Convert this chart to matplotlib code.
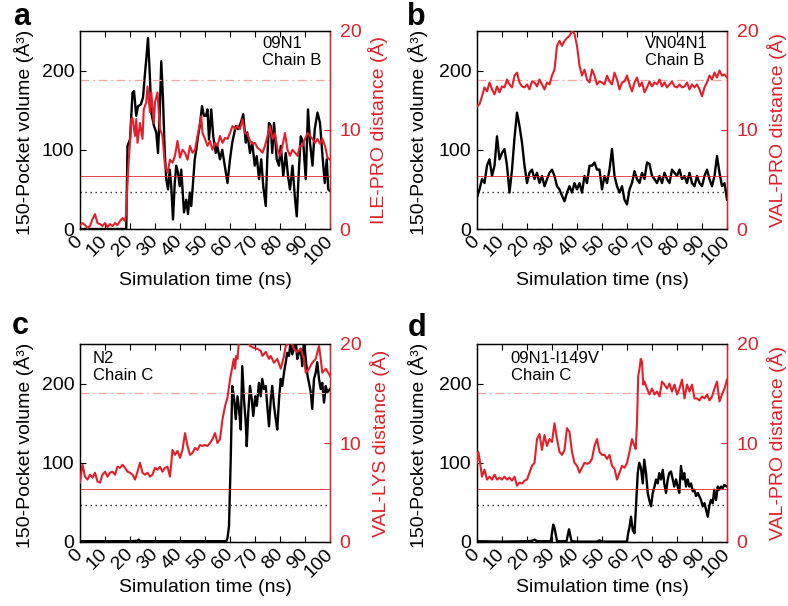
"""
Pocket volume vs. side-chain distance, four MD runs (panels a-d).
Black = 150-pocket volume (left axis), red = residue pair distance (right axis).
"""

import matplotlib
matplotlib.use("Agg")
import matplotlib.pyplot as plt

plt.rcParams["font.family"] = ["Liberation Sans", "DejaVu Sans"]

# ─────────────────────────────────────────────
# STYLE
# ─────────────────────────────────────────────
RED   = "#E2202B"
PINK  = "#F2A3A3"
TICK_SIZE  = 14
LABEL_SIZE = 14

# ─────────────────────────────────────────────
# THRESHOLDS (same in every panel)
# ─────────────────────────────────────────────
POCKET_CUT = 46.5     # Å³, black dotted
DIST_LOW   = 5.4      # Å, red solid
DIST_HIGH  = 15.1     # Å, pink dash-dot

X_TICKS = [0, 10, 20, 30, 40, 50, 60, 70, 80, 90, 100]
T_GRID  = list(range(0, 101))   # 1 ns sampling used for panel b

# ─────────────────────────────────────────────
# PANEL a — 09N1 chain B, ILE-PRO
# ─────────────────────────────────────────────
A_VOL_T = [0, 18.5, 19, 20, 21, 21.6, 22.5, 23.2, 24.3, 25.2,
           25.9, 26.5, 27.2, 27.9, 28.5, 29.6, 30.5, 31.2, 31.9, 32.5,
           33.2, 33.9, 34.5, 35.2, 35.9, 36.5, 37.2, 37.9, 38.5, 39.2,
           39.9, 40.5, 41.6, 42.5, 43.2, 43.9, 44.5, 45.2, 45.9, 46.5,
           47.2, 47.9, 48.8, 49.6, 50.4, 51, 51.6, 52.5, 53.3, 54.3,
           54.9, 56, 56.9, 57.9, 59, 60, 60.9, 62.3, 63.2, 64.3,
           65.3, 66.3, 66.9, 68, 68.9, 69.9, 70.7, 71.6, 72.5, 73.3,
           74.3, 74.9, 75.6, 76.3, 76.9, 77.6, 78.7, 79.6, 80.3, 81.3,
           82.3, 83.2, 84, 85, 85.9, 86.7, 87.5, 88.3, 89.3, 90.3,
           91.2, 92, 93, 93.9, 95, 96, 96.9, 97.9, 98.7, 99.3, 100]
A_VOL = [0, 0, 105, 113, 172, 174, 143, 155, 157, 166,
         193, 214, 241, 197, 147, 130, 122, 96, 147, 212,
         164, 96, 63, 50, 75, 54, 12, 58, 80, 71,
         54, 75, 21, 37, 19, 46, 29, 58, 88, 100,
         117, 130, 155, 143, 143, 151, 113, 151, 117, 96,
         105, 88, 100, 80, 58, 88, 109, 130, 126, 134,
         145, 109, 122, 96, 109, 80, 92, 63, 88, 54,
         29, 88, 134, 130, 96, 134, 88, 80, 105, 67,
         96, 67, 50, 80, 42, 16, 71, 117, 109, 63,
         151, 109, 80, 126, 147, 134, 96, 58, 88, 50, 48]

A_DIST_T = (list(range(0, 19))
            + [18.5, 19, 19.5, 20, 20.5, 21, 22, 22.5, 23, 24,
               25, 25.5, 26.5, 27, 28, 28.5, 29.5, 30, 31]
            + list(range(32, 49)) + [48.5, 49] + list(range(50, 101)))
A_DIST = [0.4, 0.6, 0.4, 0.1, 0.3, 1.0, 1.5, 0.6, 0.5, 0.3,
          0.6, 0.2, 0.5, 0.3, 0.6, 0.4, 0.8, 1.1, 0.8,
          1.6, 4.7, 7.0, 8.7, 11.1, 11.2, 9.4, 11.1, 8.7, 10.7,
          9.1, 12.1, 12.8, 14.4, 11.8, 13.8, 10.7, 12.8, 13.8,
          10.1, 9.4, 6.4, 5.7, 7.0, 6.7, 7.4, 8.9, 7.2, 8.0,
          7.7, 7.0, 8.4, 7.7, 8.0, 9.4, 10.7,
          11.4, 9.7, 9.1,
          8.4, 8.9, 8.0, 8.7, 8.4, 9.4, 8.7, 9.2, 9.1, 9.7,
          10.4, 10.1, 10.4, 10.1, 11.1, 9.7, 9.6, 8.9, 8.6, 8.7,
          8.2, 8.0, 7.7, 8.4, 9.4, 10.4, 9.1, 9.7, 8.0, 7.4,
          8.4, 9.7, 8.0, 7.4, 8.0, 7.7, 7.4, 8.4, 8.4, 9.1,
          9.7, 9.4, 9.1, 8.7, 9.1, 8.6, 9.1, 8.4, 7.2, 7.0]

# ─────────────────────────────────────────────
# PANEL b — VN04N1 chain B, VAL-PRO
# ─────────────────────────────────────────────
B_VOL = [40, 50, 63, 58, 80, 88, 67, 80, 117, 88,
         96, 101, 80, 46, 75, 115, 147, 130, 109, 80,
         58, 71, 75, 63, 71, 58, 67, 54, 63, 71,
         75, 67, 54, 50, 42, 35, 46, 54, 46, 58,
         50, 58, 46, 67, 58, 80, 80, 84, 75, 75,
         50, 67, 58, 75, 101, 67, 54, 46, 54, 37,
         31, 50, 58, 73, 63, 58, 71, 63, 84, 82,
         67, 63, 58, 67, 58, 71, 63, 58, 75, 71,
         67, 75, 63, 67, 58, 71, 58, 54, 67, 58,
         54, 67, 75, 63, 54, 67, 92, 71, 54, 58, 37]
B_DIST = [12.4, 12.6, 13.4, 14.3, 13.9, 14.8, 14.1, 13.6, 14.4, 13.8,
          14.4, 14.3, 15.1, 14.6, 14.3, 15.5, 15.8, 14.8, 14.4, 14.3,
          14.6, 14.1, 14.9, 14.8, 14.4, 15.1, 14.6, 14.1, 14.8, 14.6,
          15.5, 16.1, 18.5, 19.0, 18.5, 19.0, 19.3, 19.5, 20.0, 19.7,
          18.5, 16.5, 15.5, 16.1, 15.1, 14.8, 16.1, 15.5, 14.6, 14.9,
          14.8, 14.6, 15.5, 14.9, 14.6, 15.8, 15.1, 14.1, 14.8, 14.9,
          15.5, 14.6, 13.9, 14.8, 15.3, 14.4, 14.8, 13.8, 14.3, 14.9,
          14.4, 14.8, 14.6, 15.1, 14.4, 14.8, 14.3, 14.6, 14.9, 14.4,
          14.3, 14.6, 14.3, 14.4, 14.8, 14.1, 14.6, 14.3, 14.6, 14.1,
          13.4, 14.3, 14.8, 15.5, 15.1, 15.8, 15.3, 16.0, 15.5, 15.6, 15.3]

# ─────────────────────────────────────────────
# PANEL c — N2 chain C, VAL-LYS
# ─────────────────────────────────────────────
C_VOL_T = [0, 10, 20, 23, 23.5, 24, 30, 40, 50, 58.5,
           59, 59.6, 60.3, 60.9, 61.6, 62.3, 63, 63.6, 64.3, 64.9,
           65.6, 66.3, 66.7, 67.3, 68, 68.7, 69.3, 70.1, 70.7, 71.6,
           72.3, 72.9, 73.6, 74.3, 74.9, 75.6, 76.3, 76.9, 77.6, 78.3,
           78.9, 79.6, 80.3, 80.9, 81.6, 82.3, 82.9, 83.6, 84.3, 84.9,
           85.6, 86.3, 86.9, 87.6, 88.3, 88.9, 89.6, 90.3, 91, 91.6,
           92.3, 92.9, 93.6, 94.3, 94.9, 95.6, 96.3, 96.9, 97.6, 98.3,
           98.9, 100]
C_VOL = [1, 1, 1, 1.5, 3, 1, 1, 1, 1, 1,
         5, 20, 106, 197, 182, 155, 184, 168, 142, 222,
         180, 151, 121, 163, 197, 180, 159, 184, 172, 201,
         184, 206, 193, 197, 172, 146, 180, 197, 172, 155,
         142, 180, 206, 197, 214, 227, 239, 235, 255, 237,
         244, 255, 231, 239, 244, 222, 255, 231, 210, 201,
         189, 168, 206, 214, 227, 206, 193, 201, 176, 197,
         189, 193]

C_DIST_T = ([0, 0.5] + list(range(1, 62))
            + [61.5, 62, 62.5, 63, 63.5, 64, 65, 66, 67, 68,
               69.6, 71, 72.3, 73, 74.3, 75.6, 76.3, 77.6, 78.9, 80.3,
               80.9, 81.6, 82.3, 84.3, 85.6, 86.9, 88.3, 89.6, 90.3, 91.6,
               92.9, 94.3, 95.6, 96.3, 96.9, 98.3, 100])
C_DIST = [6.0, 7.0,
          7.8, 6.6, 6.3, 6.8, 6.5, 7.0, 6.1, 6.0, 6.8, 7.1,
          6.6, 7.0, 7.1, 6.8, 7.6, 7.5, 7.8, 7.5, 7.1, 7.0,
          6.8, 6.3, 7.1, 8.0, 7.0, 6.8, 7.0, 6.6, 6.8, 7.5,
          7.3, 7.6, 7.1, 7.5, 7.6, 6.6, 9.3, 8.8, 9.2, 8.5,
          9.3, 11.0, 9.7, 8.8, 9.0, 9.5, 9.3, 9.8, 9.7, 9.8,
          9.7, 10.0, 10.4, 11.0, 10.0, 10.4, 12.4, 13.7, 14.6, 16.4,
          17.8,
          18.5, 17.5, 18.8, 18.5, 20.0, 21.0, 21.5, 21.0, 20.5, 19.8,
          19.6, 19.5, 19.3, 18.8, 19.2, 18.5, 18.8, 18.1, 18.5, 17.5,
          18.1, 18.8, 19.8, 20.3, 19.5, 19.2, 19.5, 18.5, 17.1, 17.5,
          18.1, 18.5, 19.8, 18.5, 17.1, 17.5, 16.8]

# ─────────────────────────────────────────────
# PANEL d — 09N1-I149V chain C, VAL-PRO
# ─────────────────────────────────────────────
D_VOL_T = [0, 10, 20, 22, 23, 24, 29.5, 30.5, 31, 32,
           35.8, 36.8, 37.8, 40, 48, 49, 50, 55, 60, 60.4,
           61, 61.6, 62.3, 63, 63.6, 64.3, 64.9, 65.6, 66.3, 66.9,
           67.6, 68.3, 68.9, 69.6, 70.3, 71, 71.6, 72.3, 72.9, 73.6,
           74.3, 74.9, 75.6, 76.3, 76.9, 77.6, 78.3, 78.9, 79.6, 80.3,
           80.9, 81.6, 82.3, 82.9, 83.6, 84.3, 84.9, 85.6, 86.3, 86.9,
           87.6, 88.3, 88.9, 89.6, 90.3, 91, 91.6, 92.3, 92.9, 93.6,
           94.3, 94.9, 95.6, 96.3, 96.9, 97.6, 98.3, 98.9, 100]
D_VOL = [1, 0.5, 1, 1.5, 3, 1, 1, 22, 18, 1,
         1, 16, 1, 0.5, 0.5, 2, 0.5, 0.5, 0.5, 10,
         19, 32, 15, 11, 45, 87, 100, 93, 74, 104,
         87, 62, 53, 45, 62, 70, 79, 74, 87, 79,
         91, 74, 62, 79, 87, 89, 79, 70, 79, 70,
         62, 96, 79, 87, 70, 79, 70, 74, 64, 66,
         58, 62, 58, 53, 45, 49, 41, 32, 45, 53,
         49, 66, 53, 70, 66, 70, 68, 72, 70]

D_DIST_T = ([0, 0.5] + list(range(1, 64))
            + [63.5, 64, 64.5, 65, 65.5, 66, 66.5] + list(range(67, 101)))
D_DIST = [8.0, 9.1,
          8.4, 6.6, 7.3, 6.3, 6.6, 6.3, 6.8, 6.3, 6.5, 6.3,
          6.6, 6.3, 6.5, 6.2, 6.6, 5.7, 6.0, 5.9, 6.2, 6.3,
          7.0, 7.7, 8.0, 10.4, 10.9, 9.3, 10.8, 9.7, 10.4, 10.1,
          12.0, 10.4, 9.1, 8.8, 9.3, 11.5, 11.1, 9.1, 8.0, 7.7,
          7.0, 7.5, 8.0, 7.9, 8.0, 8.4, 9.7, 10.4, 9.1, 8.8,
          8.8, 8.4, 8.8, 7.7, 7.4, 6.3, 7.0, 7.7, 7.5, 8.0,
          9.1, 10.4, 9.7,
          9.4, 12.1, 16.8, 17.5, 18.5, 18.2, 15.9,
          16.2, 15.5, 14.9, 15.5, 14.9, 15.2, 14.7, 16.2, 15.9, 15.5,
          16.0, 15.2, 15.9, 14.9, 15.5, 16.4, 14.5, 15.9, 15.2, 15.9,
          14.5, 14.5, 14.3, 14.7, 14.5, 14.9, 14.3, 14.7, 15.5, 16.2,
          14.2, 14.9, 15.5, 16.4]


# ─────────────────────────────────────────────
# PLOT
# ─────────────────────────────────────────────
def draw_panel(fig, rect, vol_t, vol, dist_t, dist, dist_label,
               note, note_xy, xlabel_y, ylabel_x, y2label_x):
    ax = fig.add_axes(rect)
    ax.axhline(0, color="0.35", lw=0.9, ls=(0, (4, 4)), zorder=1)
    ax.axhline(POCKET_CUT, color="0.15", lw=1.0, ls=(0, (1, 2.6)), zorder=1)
    ax.plot(vol_t, vol, color="black", lw=1.7, zorder=3)

    ax.set_xlim(0, 100)
    ax.set_ylim(0, 250)
    ax.set_xticks(X_TICKS)
    ax.set_xticklabels([str(x) for x in X_TICKS], rotation=45,
                       ha="right", va="center", rotation_mode="anchor")
    ax.set_yticks([0, 100, 200])
    ax.tick_params(direction="in", top=True, right=True, length=4,
                   width=0.8, labelsize=TICK_SIZE)
    ax.tick_params(axis="x", pad=7)
    ax.tick_params(axis="y", pad=4)
    ax.set_xlabel("Simulation time (ns)", fontsize=LABEL_SIZE)
    ax.xaxis.set_label_coords(0.5, xlabel_y)
    ax.set_ylabel("150-Pocket volume (Å³)", fontsize=LABEL_SIZE)
    ax.yaxis.set_label_coords(ylabel_x, 0.49)
    ax.text(note_xy[0], note_xy[1], note, transform=ax.transAxes,
            fontsize=12, va="top", ha="left", linespacing=1.15)

    ax2 = ax.twinx()
    ax2.axhline(DIST_LOW, color=RED, lw=0.7, alpha=0.85, zorder=1)
    ax2.axhline(DIST_HIGH, color=PINK, lw=0.9, ls=(0, (7, 3, 1.5, 3)), zorder=1)
    ax2.plot(dist_t, dist, color=RED, lw=1.5, zorder=3)
    ax2.set_ylim(0, 20)
    ax2.set_yticks([0, 10, 20])
    ax2.tick_params(axis="y", direction="in", length=4, width=0.8,
                    colors=RED, labelsize=TICK_SIZE, pad=7)
    ax2.spines["right"].set_color(RED)
    ax2.set_ylabel(dist_label, fontsize=LABEL_SIZE, color=RED)
    ax2.yaxis.set_label_coords(y2label_x, 0.5)

    for a in (ax, ax2):
        for s in a.spines.values():
            s.set_linewidth(0.9)
    return ax


def main():
    fig = plt.figure(figsize=(7.88, 6.06), dpi=100)

    W, H = 788.0, 606.0
    left_col, right_col = 80 / W, 477 / W
    aw = 250 / W
    top_row = (H - 229) / H
    bot_row = (H - 542) / H
    ah = 198 / H

    draw_panel(fig, [left_col, top_row, aw, ah], A_VOL_T, A_VOL,
               A_DIST_T, A_DIST, "ILE-PRO distance (Å)",
               "09N1\nChain B", (0.728, 0.975), -0.215, -0.185, 1.15)
    draw_panel(fig, [right_col, top_row, aw, ah], T_GRID, B_VOL,
               T_GRID, B_DIST, "VAL-PRO distance (Å)",
               "VN04N1\nChain B", (0.672, 0.975), -0.215, -0.195, 1.16)
    draw_panel(fig, [left_col, bot_row, aw, ah], C_VOL_T, C_VOL,
               C_DIST_T, C_DIST, "VAL-LYS distance (Å)",
               "N2\nChain C", (0.052, 0.965), -0.185, -0.185, 1.16)
    draw_panel(fig, [right_col, bot_row, aw, ah], D_VOL_T, D_VOL,
               D_DIST_T, D_DIST, "VAL-PRO distance (Å)",
               "09N1-I149V\nChain C", (0.135, 0.965), -0.185, -0.195, 1.16)

    for letter, x, y in [("a", 13, 25), ("b", 407, 25),
                         ("c", 12, 334), ("d", 408, 336)]:
        fig.text(x / W, 1 - y / H, letter, fontsize=22, fontweight="bold",
                 ha="left", va="baseline")

    fig.savefig("out.png", dpi=100)
    plt.close(fig)


if __name__ == "__main__":
    main()
